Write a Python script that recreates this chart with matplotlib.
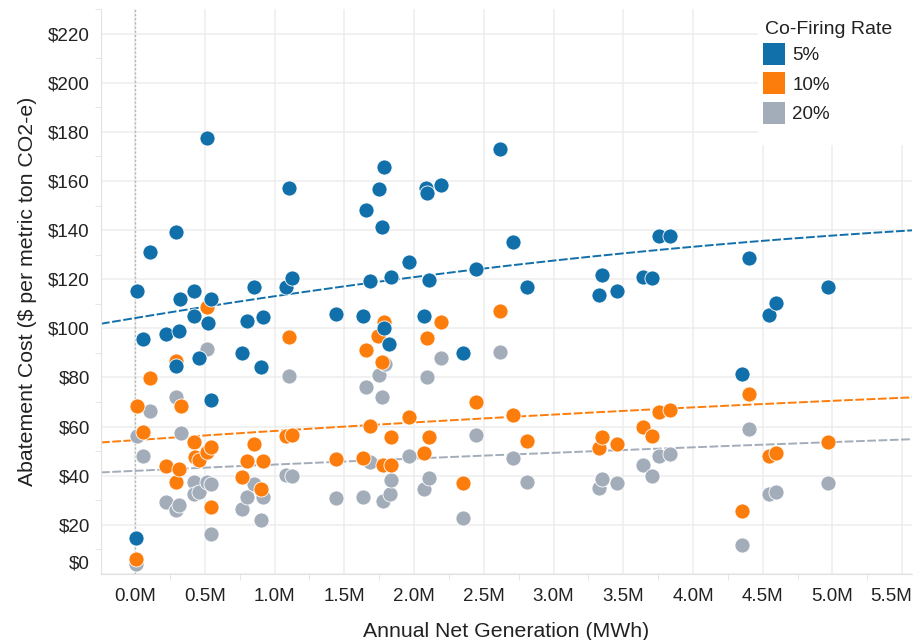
import numpy as np
import matplotlib
matplotlib.use("Agg")
import matplotlib.pyplot as plt
from matplotlib.lines import Line2D
from matplotlib.patches import Rectangle
from matplotlib import transforms
from matplotlib.ticker import MultipleLocator, FuncFormatter

plt.rcParams['font.family'] = ['Liberation Sans', 'DejaVu Sans']

# Annual net generation (million MWh) and abatement cost ($/t CO2-e) per co-firing rate
x5 = [0.005, 0.012, 0.06, 0.11, 0.22, 0.294, 0.294, 0.315, 0.325, 0.423, 0.423, 0.456,
      0.518, 0.521, 0.545, 0.545, 0.769, 0.801, 0.853, 0.901, 0.918, 1.082, 1.104, 1.123,
      1.441, 1.632, 1.656, 1.685, 1.749, 1.772, 1.785, 1.785, 1.823, 1.837, 1.966, 2.072,
      2.085, 2.095, 2.105, 2.194, 2.354, 2.442, 2.616, 2.71, 2.808, 3.324, 3.348, 3.453,
      3.639, 3.703, 3.756, 3.835, 4.349, 4.404, 4.545, 4.595, 4.965]
y5 = [14.6, 115.0, 95.5, 130.9, 97.5, 139.3, 84.6, 98.8, 111.8, 115.4, 105.1, 87.9,
      177.3, 102.0, 111.8, 70.9, 90.0, 102.8, 116.7, 84.4, 104.5, 116.7, 157.2, 120.6,
      105.8, 105.1, 148.1, 119.1, 156.6, 141.3, 165.7, 100.0, 93.6, 121.1, 127.1, 105.1,
      157.3, 155.1, 119.6, 158.5, 89.9, 124.1, 173.2, 135.2, 116.8, 113.7, 121.8, 115.4,
      121.0, 120.3, 137.6, 137.6, 81.3, 128.5, 105.5, 110.2, 116.7]

x10 = [0.005, 0.012, 0.055, 0.11, 0.22, 0.294, 0.296, 0.318, 0.327, 0.423, 0.433, 0.462,
       0.518, 0.518, 0.545, 0.545, 0.769, 0.801, 0.853, 0.901, 0.918, 1.08, 1.104, 1.123,
       1.441, 1.632, 1.656, 1.685, 1.744, 1.772, 1.781, 1.785, 1.833, 1.837, 1.966, 2.072,
       2.095, 2.105, 2.194, 2.354, 2.442, 2.616, 2.71, 2.808, 3.324, 3.348, 3.453, 3.639,
       3.703, 3.756, 3.835, 4.349, 4.404, 4.545, 4.595, 4.965]
y10 = [6.2, 68.3, 58.0, 79.9, 43.9, 86.6, 37.6, 42.8, 68.3, 53.7, 47.8, 46.5,
       108.5, 49.8, 51.9, 27.2, 39.4, 46.2, 53.0, 34.4, 46.2, 56.1, 96.5, 56.6,
       46.9, 47.2, 91.2, 60.4, 97.0, 86.2, 44.4, 102.4, 44.4, 55.7, 64.1, 49.3,
       96.1, 55.7, 102.7, 37.1, 70.2, 106.9, 64.8, 54.3, 51.3, 55.7, 53.0, 59.8,
       56.1, 66.1, 66.7, 25.5, 73.3, 48.0, 49.3, 53.7]

x20 = [0.005, 0.012, 0.055, 0.11, 0.22, 0.294, 0.296, 0.318, 0.327, 0.423, 0.425, 0.456,
       0.518, 0.518, 0.545, 0.545, 0.769, 0.801, 0.853, 0.901, 0.918, 1.08, 1.104, 1.123,
       1.441, 1.632, 1.656, 1.685, 1.749, 1.772, 1.781, 1.79, 1.828, 1.837, 1.966, 2.072,
       2.095, 2.105, 2.194, 2.354, 2.442, 2.616, 2.71, 2.808, 3.324, 3.348, 3.453, 3.639,
       3.703, 3.756, 3.835, 4.349, 4.404, 4.545, 4.595, 4.965]
y20 = [4.2, 56.1, 48.2, 66.5, 29.3, 71.9, 25.9, 28.2, 57.4, 37.6, 32.4, 33.5,
       91.6, 37.4, 36.6, 16.4, 26.5, 31.3, 36.7, 22.1, 31.5, 40.4, 80.5, 39.7,
       30.9, 31.5, 76.3, 45.5, 81.1, 71.9, 29.7, 85.5, 32.4, 38.3, 48.2, 34.4,
       80.1, 39.0, 87.9, 22.9, 56.6, 90.5, 47.2, 37.6, 35.1, 38.7, 37.1, 44.4,
       39.7, 48.2, 48.9, 12.0, 59.1, 32.6, 33.3, 37.1]

# polynomial trend lines as shown in the chart: intercept, slope, curvature
trend5 = [104.2, 9.41, -0.539]
trend10 = [54.5, 3.87, -0.134]
trend20 = [42.0, 2.61, -0.054]

rates = ['5%', '10%', '20%']
colors = ['#1170aa', '#fc7d0b', '#a3acb9']

fig = plt.figure(figsize=(9.16, 6.4), dpi=100)
ax = fig.add_axes([101 / 916, 66 / 640, 811 / 916, 565 / 640])

xmin, xmax = -0.244, 5.57
ax.set_xlim(xmin, xmax)
ax.set_ylim(0, 230)

# trend lines, below the marks
xl = np.linspace(xmin, xmax, 200)
for tr, c in [(trend5, colors[0]), (trend10, colors[1]), (trend20, colors[2])]:
    ax.plot(xl, np.polyval(tr[::-1], xl), ls=(0, (4.5, 1.3)), lw=1.4, color=c, zorder=2)

# marks: 20% at the back, 5% on top
for xs, ys, c, z in [(x20, y20, colors[2], 3), (x10, y10, colors[1], 4), (x5, y5, colors[0], 5)]:
    ax.scatter(xs, ys, s=118, color=c, edgecolor='white', linewidth=0.6, zorder=z)

ax.axvline(0, color='#b5b5b5', lw=1, ls=(0, (1.5, 1.5)), zorder=1)

# grid and axes
ax.xaxis.set_major_locator(MultipleLocator(0.5))
ax.xaxis.set_minor_locator(MultipleLocator(0.5, offset=0.25))
ax.yaxis.set_major_locator(MultipleLocator(20))
ax.yaxis.set_minor_locator(MultipleLocator(20, offset=10))
ax.xaxis.set_major_formatter(FuncFormatter(lambda v, p: f"{v:.1f}M"))
ax.yaxis.set_major_formatter(FuncFormatter(lambda v, p: f"${v:.0f}"))
ax.grid(True, which='major', color='#ededed', lw=1.1, zorder=0)
ax.set_axisbelow(True)
for s in ['top', 'right']:
    ax.spines[s].set_visible(False)
for s in ['left', 'bottom']:
    ax.spines[s].set_color('#e2e2e2')
ax.tick_params(which='major', length=0, labelsize=13.5, labelcolor='#222222')
ax.tick_params(axis='x', which='major', pad=10)
ax.tick_params(axis='y', which='major', pad=8)
ax.tick_params(which='minor', length=4, color='#e2e2e2')

ax.set_xlabel('Annual Net Generation (MWh)', fontsize=15.3, color='#222222', labelpad=12)
ax.set_ylabel('Abatement Cost ($ per metric ton CO2-e)', fontsize=15.3, color='#222222', labelpad=8)

# end labels are pulled inside the pane, as in the original
fig.canvas.draw()
for lab in ax.get_yticklabels():
    if lab.get_text() == '$0':
        lab.set_transform(lab.get_transform() + transforms.ScaledTranslation(0, 12 / 100, fig.dpi_scale_trans))
for lab in ax.get_xticklabels():
    if lab.get_text() == '5.5M':
        lab.set_transform(lab.get_transform() + transforms.ScaledTranslation(-11 / 100, 0, fig.dpi_scale_trans))

# white pane behind the legend
fig.add_artist(Rectangle((758 / 916, 1 - 145 / 640), 158 / 916, 145 / 640,
                         transform=fig.transFigure, facecolor='white', edgecolor='none', zorder=9))

handles = [Line2D([], [], marker='s', ls='none', markersize=16.5, markerfacecolor=c,
                  markeredgewidth=0) for c in colors]
leg = fig.legend(handles, rates, title='Co-Firing Rate', loc='upper left',
                 bbox_to_anchor=(765 / 916, 1 - 21 / 640), bbox_transform=fig.transFigure,
                 fontsize=13.5, title_fontsize=14, frameon=False,
                 handlelength=1.0, handletextpad=0.45, labelspacing=0.66,
                 borderpad=0, borderaxespad=0)
leg._legend_box.align = 'left'
leg._legend_box.sep = 6.7
leg.set_zorder(10)
for t in leg.get_texts():
    t.set_color('#222222')
leg.get_title().set_color('#222222')

fig.savefig('out.png', dpi=100)
